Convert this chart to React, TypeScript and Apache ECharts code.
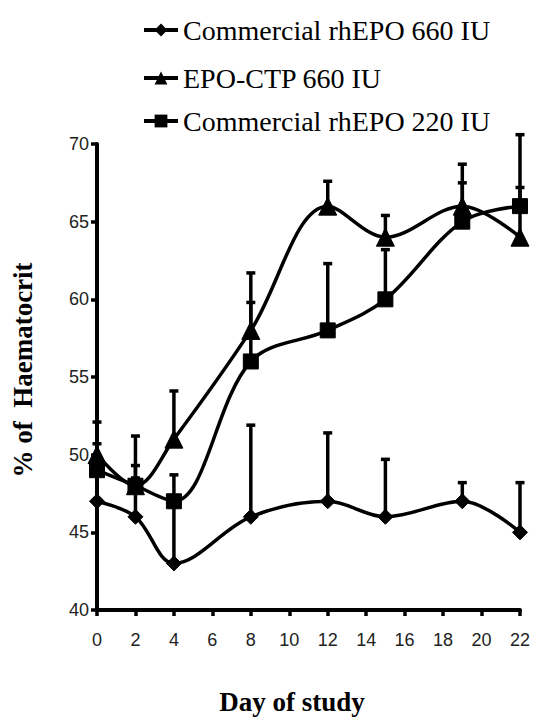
import React, { useEffect, useRef } from "react";
import * as echarts from "echarts";

const days = [0, 2, 4, 8, 12, 15, 19, 22];
const rhEPO660 = [47, 46, 43, 46, 47, 46, 47, 45];
const rhEPO660Upper = [52.1, 51.2, 47.3, 51.9, 51.4, 49.7, 48.2, 48.2];
const epoCTP660 = [50, 48, 51, 58, 66, 64, 66, 64];
const epoCTP660Upper = [50.7, 49.3, 54.1, 61.7, 67.6, 65.4, 68.7, 70.6];
const rhEPO220 = [49, 48, 47, 56, 58, 60, 65, 66];
const rhEPO220Upper = [49.5, 48.5, 48.7, 59.8, 62.3, 63.2, 67.5, 67.2];

const names = ["Commercial rhEPO 660 IU", "EPO-CTP 660 IU", "Commercial rhEPO 220 IU"];
const yTicks = [40, 45, 50, 55, 60, 65, 70];

const pairs = (ys: number[]) => days.map((d, i) => [d, ys[i]]);
const errs = (ys: number[], up: number[]) => days.map((d, i) => [d, ys[i], up[i]]);

function errorRender(params: any, api: any) {
  const x = api.value(0);
  const lo = api.value(1);
  const hi = api.value(2);
  const p0 = api.coord([x, lo]);
  const p1 = api.coord([x, hi]);
  const hw = 4.5;
  return {
    type: "group",
    children: [
      { type: "line", shape: { x1: p0[0], y1: p0[1], x2: p1[0], y2: p1[1] }, style: { stroke: "#000", lineWidth: 3.5 } },
      { type: "line", shape: { x1: p1[0] - hw, y1: p1[1], x2: p1[0] + hw, y2: p1[1] }, style: { stroke: "#000", lineWidth: 3.5 } },
    ],
  };
}

export default function App() {
  const ref = useRef<HTMLDivElement>(null);
  useEffect(() => {
    if (!ref.current) return;
    const chart = echarts.init(ref.current, null, { renderer: "svg" });
    const lineSeries = (name: string, ys: number[], symbol: string, size: number) => ({
      name,
      type: "line",
      data: pairs(ys),
      smooth: 0.35,
      symbol,
      symbolSize: size,
      showSymbol: true,
      lineStyle: { color: "#000", width: 3.5 },
      itemStyle: { color: "#000", borderColor: "#000" },
      z: 3,
    });
    const errSeries = (ys: number[], up: number[]) => ({
      type: "custom",
      renderItem: errorRender,
      data: errs(ys, up),
      encode: { x: 0, y: [1, 2] },
      z: 2,
      silent: true,
    });
    const legendBase = {
      orient: "vertical",
      left: 137,
      itemWidth: 34,
      itemHeight: 16,
      itemGap: 5,
      lineStyle: { color: "#000", width: 4 },
      textStyle: { fontFamily: "Liberation Serif", fontSize: 28, color: "#000" },
    };
    chart.setOption({
      animation: false,
      backgroundColor: "#fff",
      legend: [
        { ...legendBase, top: 11, data: [names[0]] },
        { ...legendBase, top: 59, data: [names[1]] },
        { ...legendBase, top: 102, data: [names[2]] },
      ],
      grid: { left: 97, right: 10, top: 144, bottom: 108, containLabel: false },
      xAxis: {
        type: "value",
        min: 0,
        max: 22,
        interval: 2,
        axisLine: { show: true, lineStyle: { color: "#000", width: 4 } },
        axisTick: { show: true, inside: false, length: 6, lineStyle: { color: "#000", width: 3.5 } },
        splitLine: { show: false },
        axisLabel: { fontFamily: "Liberation Sans", fontSize: 18, color: "#222", margin: 21 },
      },
      yAxis: {
        type: "value",
        min: yTicks[0],
        max: yTicks[yTicks.length - 1],
        interval: 5,
        axisLine: { show: true, lineStyle: { color: "#000", width: 4 } },
        axisTick: { show: true, inside: false, length: 6, lineStyle: { color: "#000", width: 3.5 } },
        splitLine: { show: false },
        axisLabel: { fontFamily: "Liberation Sans", fontSize: 18, color: "#222", margin: 8 },
      },
      graphic: [
        {
          type: "text",
          x: 292,
          y: 702,
          style: {
            text: "Day of study",
            fontFamily: "Liberation Serif",
            fontWeight: "bold",
            fontSize: 27,
            fill: "#000",
            align: "center",
            verticalAlign: "middle",
          },
        },
        {
          type: "text",
          x: 23,
          y: 370,
          rotation: Math.PI / 2,
          style: {
            text: "% of  Haematocrit",
            fontFamily: "Liberation Serif",
            fontWeight: "bold",
            fontSize: 27,
            fill: "#000",
            align: "center",
            verticalAlign: "middle",
          },
        },
      ],
      series: [
        errSeries(rhEPO660, rhEPO660Upper),
        errSeries(epoCTP660, epoCTP660Upper),
        errSeries(rhEPO220, rhEPO220Upper),
        lineSeries(names[0], rhEPO660, "diamond", 15),
        lineSeries(names[1], epoCTP660, "triangle", 18),
        lineSeries(names[2], rhEPO220, "rect", 15),
      ],
    });
    return () => chart.dispose();
  }, []);
  return <div ref={ref} style={{ position: "absolute", left: 0, top: 0, width: 533, height: 718 }} />;
}
